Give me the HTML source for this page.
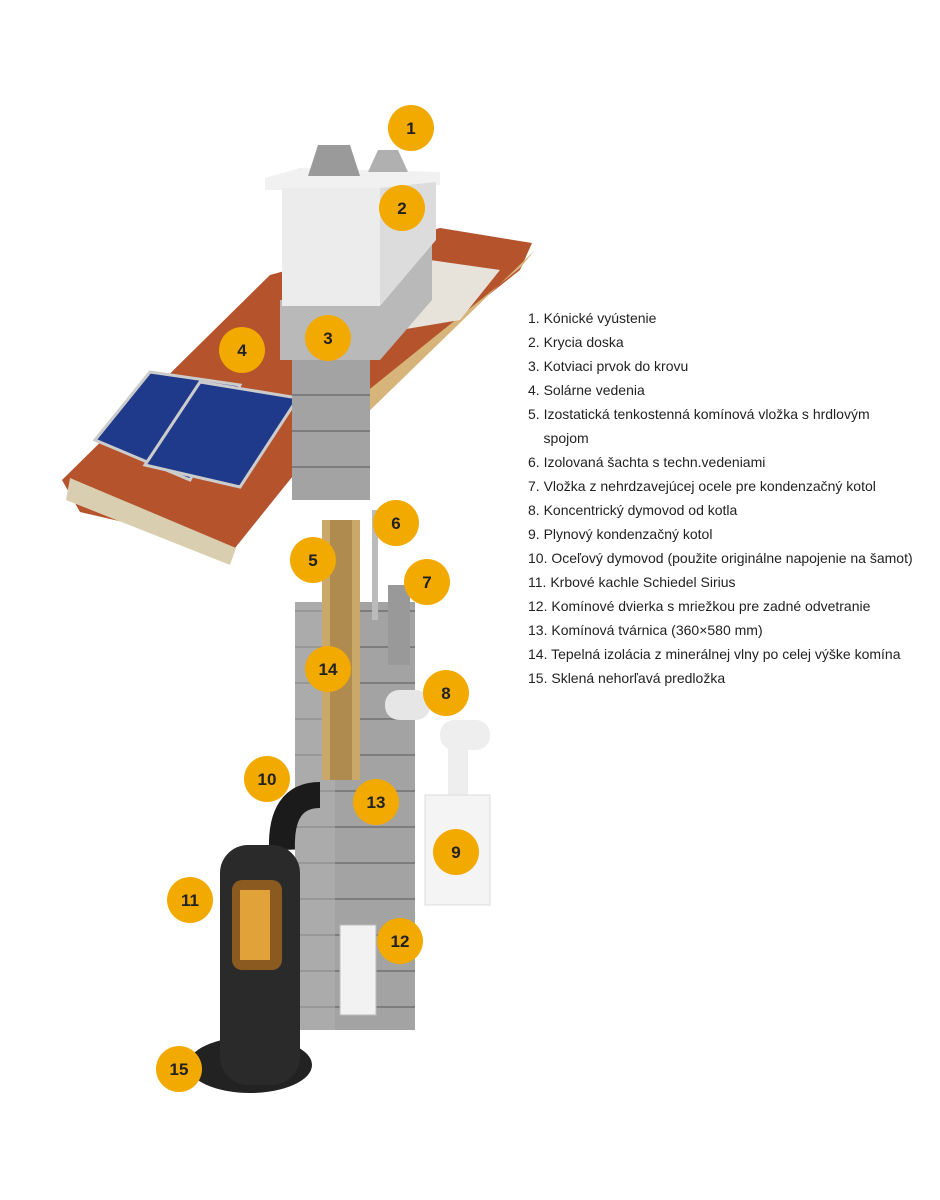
<!DOCTYPE html>
<html><head><meta charset="utf-8"><style>
body{margin:0;background:#fff;width:940px;height:1200px;overflow:hidden;position:relative;font-family:"Liberation Sans",sans-serif}
.leg{position:absolute;left:528px;top:306px;font-size:14px;line-height:24px;color:#222}
.leg div{white-space:nowrap}
</style></head><body>
<svg width="940" height="1200" style="position:absolute;left:0;top:0">
<defs>
<pattern id="blk" width="60" height="36" patternUnits="userSpaceOnUse"><rect width="60" height="36" fill="#a3a3a3"/><line x1="0" y1="35" x2="60" y2="35" stroke="#7d7d7d" stroke-width="2"/></pattern>
</defs>
<!-- roof -->
<polygon points="62,480 270,275 440,228 532,243 520,270 350,405 235,548 80,512" fill="#b5532c"/>
<polygon points="70,478 236,548 230,565 66,500" fill="#d9cfb0"/>
<polygon points="350,405 520,268 535,250 360,420" fill="#d7b47a"/>
<polygon points="430,260 500,270 460,320 400,330" fill="#e8e3da"/>
<!-- solar panels -->
<polygon points="95,440 150,372 240,385 190,480" fill="#1f3a8a" stroke="#ccc" stroke-width="3"/>
<polygon points="145,465 200,382 298,398 240,487" fill="#1f3a8a" stroke="#ccc" stroke-width="3"/>
<!-- chimney upper -->
<rect x="292" y="360" width="78" height="140" fill="url(#blk)"/>
<polygon points="280,300 380,300 432,240 432,300 380,360 280,360" fill="#b9b9b9"/>
<!-- chimney top -->
<polygon points="265,178 300,168 440,172 440,185 380,190 265,190" fill="#f1f1f1"/>
<rect x="282" y="188" width="98" height="118" fill="#ececec"/>
<polygon points="380,188 436,182 436,240 380,306" fill="#dcdcdc"/>
<polygon points="308,176 318,145 350,145 360,176" fill="#9a9a9a"/>
<polygon points="368,172 378,150 398,150 408,172" fill="#b0b0b0"/>
<!-- lower chimney -->
<rect x="295" y="602" width="120" height="428" fill="url(#blk)"/>
<rect x="295" y="602" width="40" height="428" fill="#b3b3b3" opacity=".5"/>
<rect x="322" y="520" width="38" height="260" fill="#c9a86a"/>
<rect x="330" y="520" width="22" height="260" fill="#b08b4f"/>
<rect x="372" y="510" width="6" height="110" fill="#bbb"/>
<rect x="388" y="585" width="22" height="80" fill="#999"/>
<rect x="340" y="925" width="36" height="90" fill="#f2f2f2" stroke="#bbb"/>
<!-- concentric pipe / boiler -->
<rect x="385" y="690" width="45" height="30" rx="14" fill="#e6e6e6"/>
<rect x="440" y="720" width="50" height="30" rx="14" fill="#eee"/>
<rect x="448" y="740" width="20" height="60" fill="#eee"/>
<rect x="425" y="795" width="65" height="110" fill="#f4f4f4" stroke="#ddd"/>
<!-- stove -->
<path d="M282,850 Q280,795 320,795" stroke="#1b1b1b" stroke-width="26" fill="none"/>
<ellipse cx="250" cy="1065" rx="62" ry="28" fill="#222"/>
<rect x="220" y="845" width="80" height="240" rx="28" fill="#2a2a2a"/>
<rect x="232" y="880" width="50" height="90" rx="10" fill="#8a5a20"/>
<rect x="240" y="890" width="30" height="70" fill="#e2a23a"/>
<g font-family="Liberation Sans" font-weight="bold" font-size="17" fill="#222" text-anchor="middle">
<g fill="#f2a900">
<circle cx="411" cy="128" r="23"/><circle cx="402" cy="208" r="23"/><circle cx="328" cy="338" r="23"/><circle cx="242" cy="350" r="23"/><circle cx="313" cy="560" r="23"/><circle cx="396" cy="523" r="23"/><circle cx="427" cy="582" r="23"/><circle cx="446" cy="693" r="23"/><circle cx="456" cy="852" r="23"/><circle cx="267" cy="779" r="23"/><circle cx="190" cy="900" r="23"/><circle cx="400" cy="941" r="23"/><circle cx="376" cy="802" r="23"/><circle cx="328" cy="669" r="23"/><circle cx="179" cy="1069" r="23"/>
</g>
<text x="411" y="134">1</text><text x="402" y="214">2</text><text x="328" y="344">3</text><text x="242" y="356">4</text><text x="313" y="566">5</text><text x="396" y="529">6</text><text x="427" y="588">7</text><text x="446" y="699">8</text><text x="456" y="858">9</text><text x="267" y="785">10</text><text x="190" y="906">11</text><text x="400" y="947">12</text><text x="376" y="808">13</text><text x="328" y="675">14</text><text x="179" y="1075">15</text>
</g>
</svg>
<div class="leg">
<div>1. Kónické vyústenie</div>
<div>2. Krycia doska</div>
<div>3. Kotviaci prvok do krovu</div>
<div>4. Solárne vedenia</div>
<div>5. Izostatická tenkostenná komínová vložka s hrdlovým</div>
<div>&nbsp;&nbsp;&nbsp;&nbsp;spojom</div>
<div>6. Izolovaná šachta s techn.vedeniami</div>
<div>7. Vložka z nehrdzavejúcej ocele pre kondenzačný kotol</div>
<div>8. Koncentrický dymovod od kotla</div>
<div>9. Plynový kondenzačný kotol</div>
<div>10. Oceľový dymovod (použite originálne napojenie na šamot)</div>
<div>11. Krbové kachle Schiedel Sirius</div>
<div>12. Komínové dvierka s mriežkou pre zadné odvetranie</div>
<div>13. Komínová tvárnica (360×580 mm)</div>
<div>14. Tepelná izolácia z minerálnej vlny po celej výške komína</div>
<div>15. Sklená nehorľavá predložka</div>
</div>
</body></html>
